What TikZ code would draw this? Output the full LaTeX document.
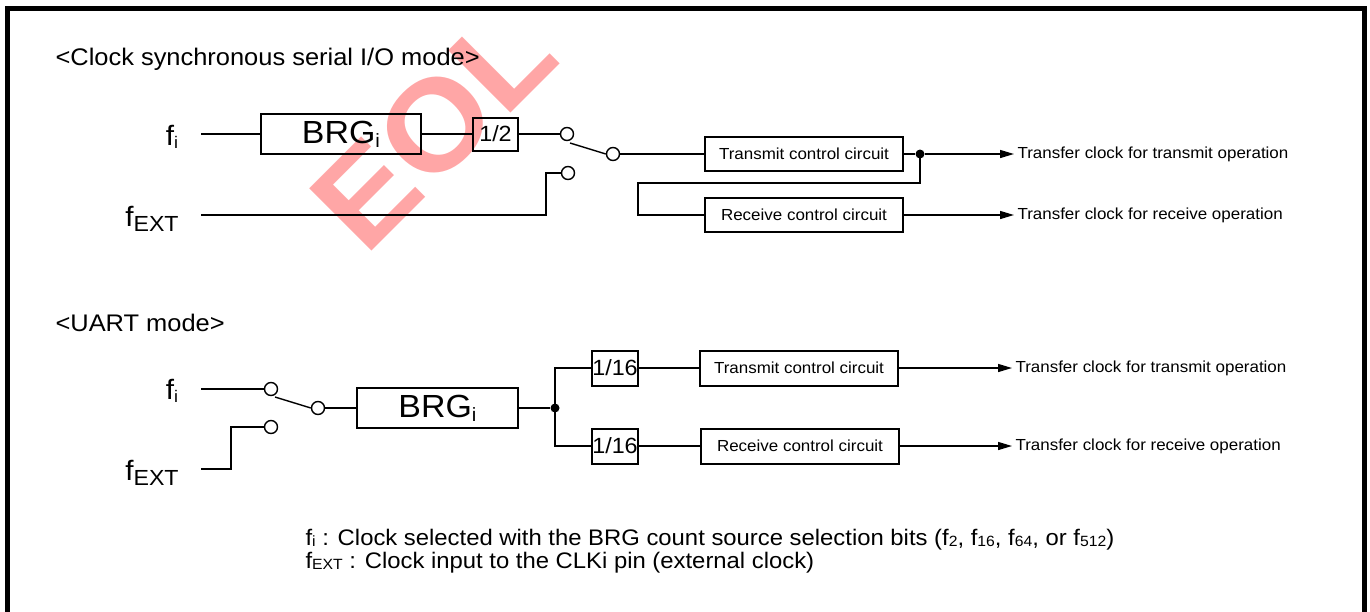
\documentclass[tikz,border=0pt]{standalone}
\usepackage{fontspec}
\setmainfont{Liberation Sans}[FakeStretch=1.06]
\usetikzlibrary{arrows.meta}

\newcommand{\hdfont}{\fontsize{24}{28}\selectfont}
\newcommand{\sigfont}{\fontsize{28}{31}\selectfont}
\newcommand{\brgfont}{\fontsize{32}{35}\selectfont}
\newcommand{\divfont}{\fontsize{22}{26}\selectfont}
\newcommand{\ctlfont}{\fontsize{16}{19}\selectfont}
\newcommand{\notefont}{\fontsize{22.5}{25}\selectfont}
\newcommand{\smallsub}[1]{\raisebox{-0.12em}{\scalebox{0.6}{#1}}}
\newcommand{\capsub}[1]{\raisebox{-0.2em}{\scalebox{0.78}{#1}}}
\newcommand{\notesub}[1]{\raisebox{-0.04em}{\scalebox{0.66}{#1}}}

\begin{document}
\begin{tikzpicture}[x=1pt, y=-1pt, >={Triangle[length=14pt,width=8pt]},
  wire/.style={line width=1.4pt},
  blk/.style={draw, line width=2pt, inner sep=0pt},
  contact/.style={circle, draw, line width=1.4pt, fill=white, inner sep=0pt, minimum size=13pt},
  junction/.style={circle, fill, inner sep=0pt, minimum size=9pt}]
  \useasboundingbox (0,0) rectangle (1370,611);

  % watermark and frame
  \node[rotate=45, text=red!35, font=\fontsize{128}{128}\selectfont\bfseries] (wmark) at (433,128) {EOL};
  \draw[line width=5pt] (7.5,615) -- (7.5,8.5) -- (1364,8.5) -- (1364,615);

  % clock synchronous serial I/O mode
  \node[anchor=west, font=\hdfont] (csiotitle) at (52,59) {<Clock synchronous serial I/O mode>};
  \node[font=\sigfont] (fiA) at (172,137) {f\smallsub{i}};
  \node[font=\sigfont] (fextA) at (152,219) {f\capsub{EXT}};
  \coordinate (fiAin) at (201,134);
  \coordinate (fextAin) at (201,215);
  \node[blk, minimum width=160pt, minimum height=40pt, font=\brgfont] (brgA) at (341,134) {BRG\smallsub{i}};
  \node[blk, minimum width=45pt, minimum height=33pt, font=\divfont] (halfA) at (495.5,134) {1/2};
  \node[contact] (swAu) at (567,134) {};
  \node[contact] (swAc) at (613,154) {};
  \node[contact] (swAl) at (568,173) {};
  \coordinate (armA) at (570,143);
  \node[blk, minimum width=198pt, minimum height=34pt, font=\ctlfont] (txA) at (804,154) {Transmit control circuit};
  \node[blk, minimum width=198pt, minimum height=34pt, font=\ctlfont] (rxA) at (804,215) {Receive control circuit};
  \node[junction] (dotA) at (920,154) {};
  \node[anchor=west, font=\ctlfont] (txAlbl) at (1014,154) {Transfer clock for transmit operation};
  \node[anchor=west, font=\ctlfont] (rxAlbl) at (1014,215) {Transfer clock for receive operation};

  \draw[wire] (fiAin) -- (brgA);
  \draw[wire] (brgA) -- (halfA);
  \draw[wire] (halfA) -- (swAu);
  \draw[wire] (fextAin) -- (546,215) |- (swAl);
  \draw[wire] (armA) -- (swAc.west);
  \draw[wire] (swAc) -- (txA);
  \draw[wire] (txA) -- (dotA);
  \draw[wire, ->] (dotA) -- (txAlbl.west);
  \draw[wire] (dotA.center) -- (920,183) -- (638,183) |- (rxA);
  \draw[wire, ->] (rxA) -- (rxAlbl.west);

  % UART mode
  \node[anchor=west, font=\hdfont] (uarttitle) at (52,323) {<UART mode>};
  \node[font=\sigfont] (fiB) at (172,391) {f\smallsub{i}};
  \node[font=\sigfont] (fextB) at (152,473) {f\capsub{EXT}};
  \coordinate (fiBin) at (201,389);
  \coordinate (fextBin) at (201,469);
  \node[contact] (swBu) at (271,389) {};
  \node[contact] (swBc) at (318,408) {};
  \node[contact] (swBl) at (271,427) {};
  \coordinate (armB) at (275,397);
  \node[blk, minimum width=161pt, minimum height=40pt, font=\brgfont] (brgB) at (437.5,408) {BRG\smallsub{i}};
  \node[junction] (dotB) at (555,408) {};
  \node[blk, minimum width=46pt, minimum height=35pt, font=\divfont] (sixtA) at (615,368) {1/16};
  \node[blk, minimum width=46pt, minimum height=35pt, font=\divfont] (sixtB) at (615,446) {1/16};
  \node[blk, minimum width=198pt, minimum height=35pt, font=\ctlfont] (txB) at (799,368) {Transmit control circuit};
  \node[blk, minimum width=198pt, minimum height=35pt, font=\ctlfont] (rxB) at (800,446) {Receive control circuit};
  \node[anchor=west, font=\ctlfont] (txBlbl) at (1012,368) {Transfer clock for transmit operation};
  \node[anchor=west, font=\ctlfont] (rxBlbl) at (1012,446) {Transfer clock for receive operation};

  \draw[wire] (fiBin) -- (swBu);
  \draw[wire] (fextBin) -- (231,469) |- (swBl);
  \draw[wire] (armB) -- (swBc.west);
  \draw[wire] (swBc) -- (brgB);
  \draw[wire] (brgB) -- (dotB);
  \draw[wire] (dotB.center) |- (sixtA);
  \draw[wire] (dotB.center) |- (sixtB);
  \draw[wire] (sixtA) -- (txB);
  \draw[wire] (sixtB) -- (rxB);
  \draw[wire, ->] (txB) -- (txBlbl.west);
  \draw[wire, ->] (rxB) -- (rxBlbl.west);

  % notes
  \node[anchor=west, font=\notefont] (notefi) at (302,540) {f\notesub{i} : Clock selected with the BRG count source selection bits (f\notesub{2}, f\notesub{16}, f\notesub{64}, or f\notesub{512})};
  \node[anchor=west, font=\notefont] (notefext) at (302,563) {f\notesub{EXT} : Clock input to the CLKi pin (external clock)};
\end{tikzpicture}
\end{document}
